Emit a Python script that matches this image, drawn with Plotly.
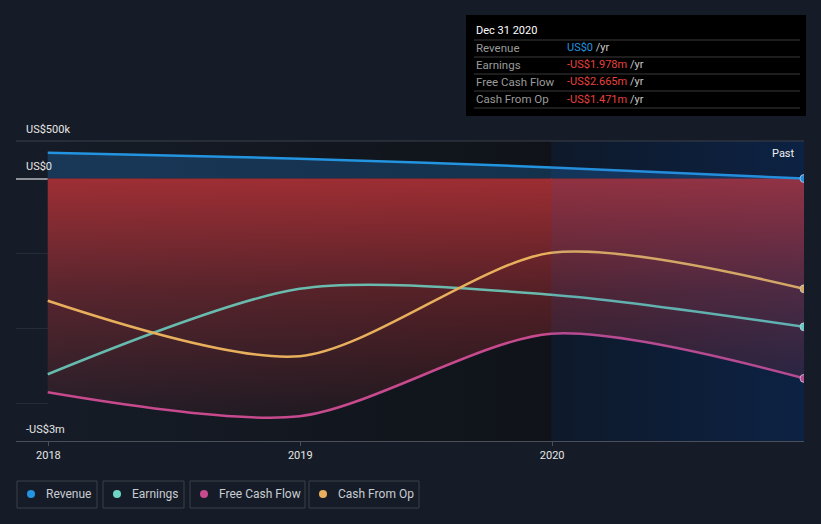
import plotly.graph_objects as go

# ---------------- data (values in US$ millions) ----------------
dates = ["2017-12-31", "2018-12-31", "2019-12-31", "2020-12-31"]
revenue = [0.345, 0.265, 0.148, 0.0]
earnings = [-2.61, -1.47, -1.55, -1.978]
free_cash_flow = [-2.85, -3.17, -2.07, -2.665]
cash_from_op = [-1.63, -2.37, -0.99, -1.471]

series_names = ["Revenue", "Earnings", "Free Cash Flow", "Cash From Op"]
series_colors = ["#2394df", "#6ed6c6", "#c64a8d", "#e8b05c"]
tick_vals = ["2018-01-01", "2019-01-01", "2020-01-01"]
tick_text = ["2018", "2019", "2020"]
y_labels = ["US$500k", "US$0", "-US$3m"]

tooltip_date = "Dec 31 2020"
tooltip_values = ["US$0", "-US$1.978m", "-US$2.665m", "-US$1.471m"]

W, H = 821, 524
L, R, T, B = 16, 17, 141, 83
PW, PH = W - L - R, H - T - B
SMOOTH = 0.8

def px(x):
    return (x - L) / PW

def py(y):
    return (H - B - y) / PH

X_RANGE = ["2017-11-15", dates[-1]]
Y_RANGE = [-3.5, 0.5]
split = dates[2]

fig = go.Figure()

# background regions (horizontal gradients)
fig.add_trace(go.Scatter(
    x=[dates[0], split, split, dates[0]], y=[Y_RANGE[1], Y_RANGE[1], Y_RANGE[0], Y_RANGE[0]],
    fill="toself", mode="none", hoverinfo="skip", showlegend=False,
    fillgradient=dict(type="horizontal", colorscale=[[0, "#161c27"], [1, "#0f1319"]])))
fig.add_trace(go.Scatter(
    x=[split, dates[-1], dates[-1], split], y=[Y_RANGE[1], Y_RANGE[1], Y_RANGE[0], Y_RANGE[0]],
    fill="toself", mode="none", hoverinfo="skip", showlegend=False,
    fillgradient=dict(type="horizontal", colorscale=[[0, "#0b1319"], [1, "#081c35"]])))

zeros = [0 for _ in dates]

# revenue area
fig.add_trace(go.Scatter(x=dates, y=zeros, mode="lines", line=dict(width=0),
                         hoverinfo="skip", showlegend=False))
fig.add_trace(go.Scatter(x=dates, y=revenue, mode="none", fill="tonexty",
                         line=dict(shape="spline", smoothing=SMOOTH),
                         fillcolor="rgba(35,140,230,0.25)", hoverinfo="skip", showlegend=False))

# red area from zero down to the lowest series
fig.add_trace(go.Scatter(x=dates, y=zeros, mode="lines", line=dict(width=0),
                         hoverinfo="skip", showlegend=False))
fig.add_trace(go.Scatter(
    x=dates, y=free_cash_flow, mode="lines", fill="tonexty",
    line=dict(width=0, shape="spline", smoothing=SMOOTH), hoverinfo="skip", showlegend=False,
    fillgradient=dict(type="vertical", start=-3.2, stop=0,
                      colorscale=[[0, "rgba(180,50,55,0.08)"],
                                  [0.53, "rgba(180,50,55,0.42)"],
                                  [1, "rgba(180,50,55,0.86)"]])))

# lines
all_series = [revenue, earnings, free_cash_flow, cash_from_op]
line_alpha = [1.0, 0.85, 1.0, 1.0]
for name, vals, col, a in zip(series_names, all_series, series_colors, line_alpha):
    fig.add_trace(go.Scatter(x=dates, y=vals, mode="lines", name=name,
                             line=dict(color=col, width=2.5, shape="spline", smoothing=SMOOTH),
                             opacity=a, showlegend=False))
for name, vals, col in zip(series_names, all_series, series_colors):
    fig.add_trace(go.Scatter(x=[dates[-1]], y=[vals[-1]], mode="markers", showlegend=False,
                             marker=dict(color=col, size=8,
                                         line=dict(color="rgba(230,230,230,0.7)", width=1)),
                             hoverinfo="skip"))

shapes = []
# right "past" region tint overlay
shapes.append(dict(type="rect", xref="x", yref="paper", x0=split, x1=dates[-1], y0=0, y1=1,
                   fillcolor="rgba(50,90,200,0.10)", line=dict(width=0), layer="above"))
# top grid line
shapes.append(dict(type="line", xref="paper", yref="paper", x0=0, x1=1, y0=1, y1=1,
                   line=dict(color="#3a3f4a", width=1)))

annotations = []
# y labels
for lab, ypix in zip(y_labels, [129, 166, 429]):
    annotations.append(dict(xref="paper", yref="paper", x=px(24), y=py(ypix), text=lab,
                            showarrow=False, xanchor="left", yanchor="middle",
                            font=dict(family="Roboto", size=11, color="#e6e6e6")))
annotations.append(dict(xref="paper", yref="paper", x=px(797), y=py(153), text="Past",
                        showarrow=False, xanchor="right", yanchor="middle",
                        font=dict(family="Roboto", size=11, color="#f0f0f0")))

# tooltip box
shapes.append(dict(type="rect", xref="paper", yref="paper", x0=px(466), x1=px(806),
                   y0=py(116), y1=py(15), fillcolor="#000000", line=dict(width=0), layer="above"))
for ypix in [40, 57, 74, 91, 108]:
    shapes.append(dict(type="line", xref="paper", yref="paper", x0=px(474), x1=px(800),
                       y0=py(ypix), y1=py(ypix), line=dict(color="#3a3a3a", width=1),
                       layer="above"))
annotations.append(dict(xref="paper", yref="paper", x=px(474), y=py(31), text=tooltip_date,
                        showarrow=False, xanchor="left", yanchor="middle",
                        font=dict(family="Roboto", size=11, color="#ffffff")))
value_colors = ["#2394df", "#e8413e", "#e8413e", "#e8413e"]
for i, (name, val, vc) in enumerate(zip(series_names, tooltip_values, value_colors)):
    ypix = 48 + 17 * i
    annotations.append(dict(xref="paper", yref="paper", x=px(474), y=py(ypix), text=name,
                            showarrow=False, xanchor="left", yanchor="middle",
                            font=dict(family="Roboto", size=11.5, color="#9a9a9a")))
    annotations.append(dict(xref="paper", yref="paper", x=px(565), y=py(ypix),
                            text=f'<span style="color:{vc}">{val}</span> /yr',
                            showarrow=False, xanchor="left", yanchor="middle",
                            font=dict(family="Roboto", size=11, color="#c8c8c8")))

# custom legend
boxes = [(17, 97), (103, 184), (190, 305), (309, 419)]
for (x0, x1), name, col in zip(boxes, series_names, series_colors):
    shapes.append(dict(type="rect", xref="paper", yref="paper", x0=px(x0), x1=px(x1),
                       y0=py(508), y1=py(481), line=dict(color="#3b404b", width=1),
                       fillcolor="rgba(0,0,0,0)"))
    cx = x0 + 14
    shapes.append(dict(type="circle", xref="paper", yref="paper", x0=px(cx - 4), x1=px(cx + 4),
                       y0=py(498), y1=py(490), fillcolor=col, line=dict(width=0)))
    annotations.append(dict(xref="paper", yref="paper", x=px(x0 + 27), y=py(494), text=name,
                            showarrow=False, xanchor="left", yanchor="middle",
                            font=dict(family="Roboto", size=12, color="#c8ccd2")))

fig.update_layout(
    width=W, height=H, margin=dict(l=L, r=R, t=T, b=B),
    paper_bgcolor="#161c27", plot_bgcolor="#161c27",
    showlegend=False, shapes=shapes, annotations=annotations,
    font=dict(family="Roboto", color="#e6e6e6"),
    xaxis=dict(type="date", range=X_RANGE, tickvals=tick_vals, ticktext=tick_text,
               showgrid=False, zeroline=False, showline=True, linecolor="#4a4f5a",
               ticks="outside", ticklen=4, tickcolor="#4a4f5a",
               tickfont=dict(family="Roboto", size=11, color="#e6e6e6")),
    yaxis=dict(range=Y_RANGE, tickvals=[-3, -2, -1, 0, 0.5], showticklabels=False,
               showgrid=True, gridcolor="rgba(255,255,255,0.07)",
               zeroline=True, zerolinecolor="#8d9096", zerolinewidth=2),
)

fig.write_html("out.html", config={"displayModeBar": False},
               post_script="document.body.style.margin='0';document.body.style.background='#161c27';")
